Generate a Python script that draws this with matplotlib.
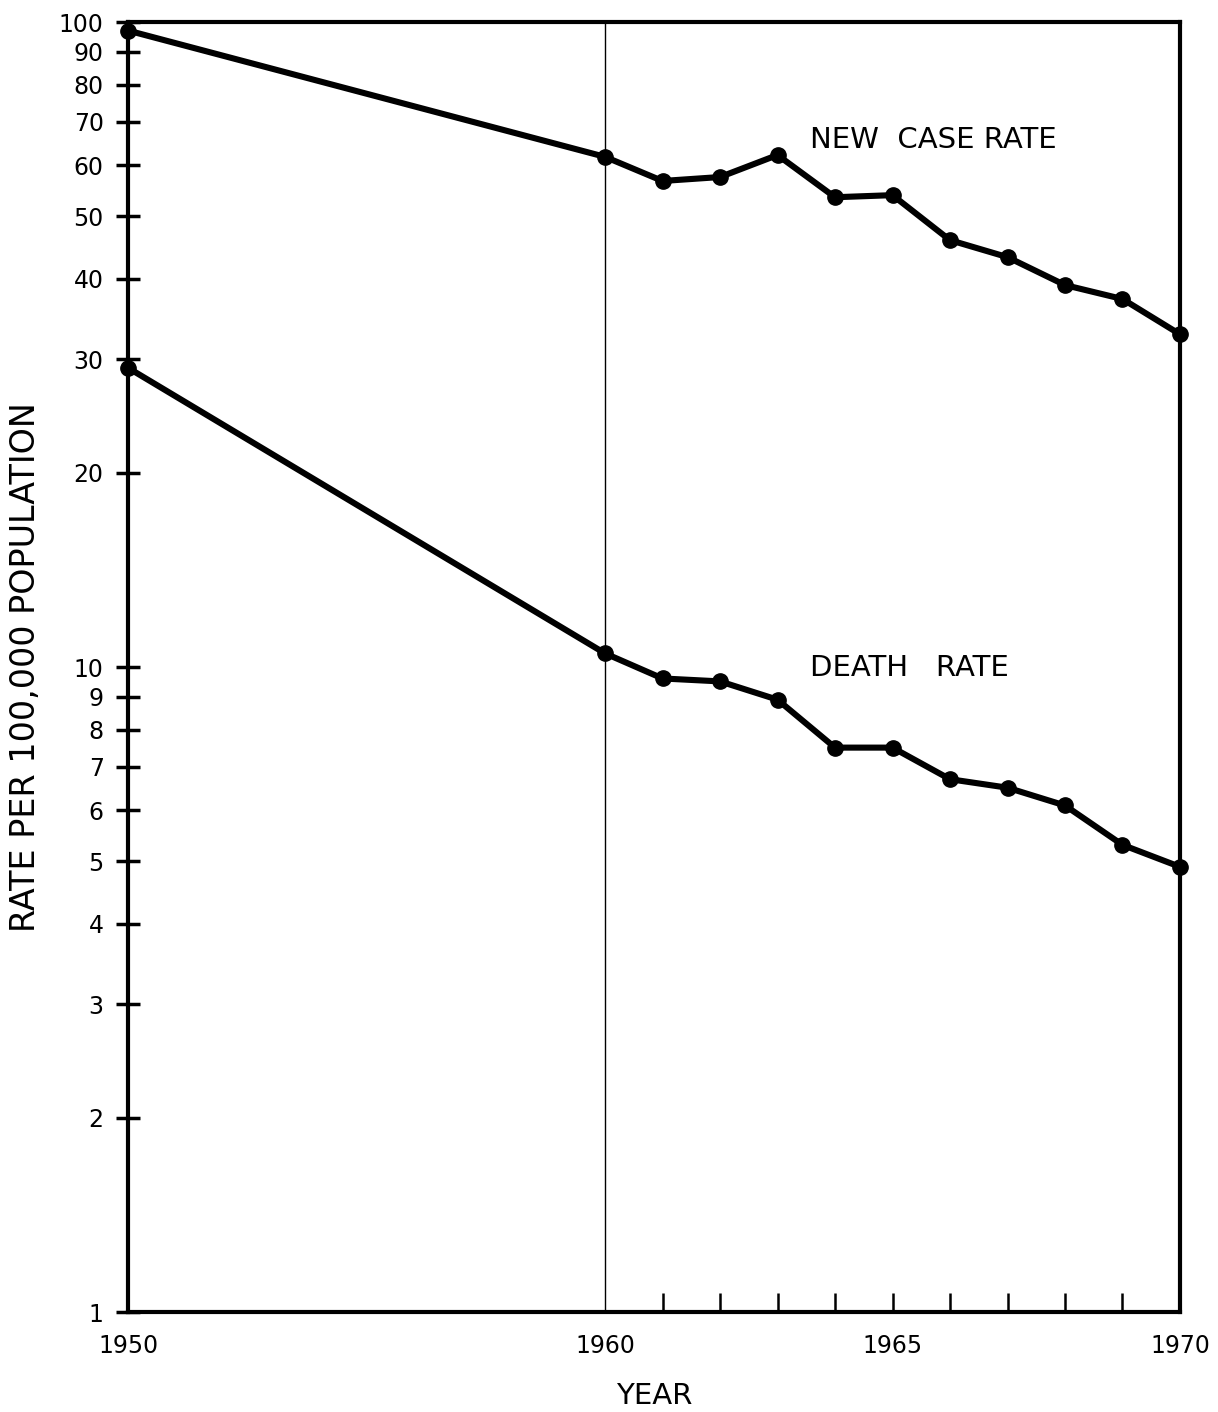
import numpy as np
import matplotlib
matplotlib.use("Agg")
import matplotlib.pyplot as plt

# data
years = [1950, 1960, 1961, 1962, 1963, 1964, 1965, 1966, 1967, 1968, 1969, 1970]
new_case_rate = [97.0, 61.8, 56.7, 57.5, 62.2, 53.5, 53.9, 45.9, 43.2, 39.1, 37.2, 32.8]
death_rate = [29.1, 10.5, 9.6, 9.5, 8.9, 7.5, 7.5, 6.7, 6.5, 6.1, 5.3, 4.9]

y_ticks = [1, 2, 3, 4, 5, 6, 7, 8, 9, 10, 20, 30, 40, 50, 60, 70, 80, 90, 100]
x_labels = [1950, 1960, 1965, 1970]
x_minor = [1961, 1962, 1963, 1964, 1965, 1966, 1967, 1968, 1969]

# 1950-1960 is drawn compressed compared to 1960-1970
PRE, POST = 47.7, 57.5


def fwd(x):
    x = np.asarray(x, dtype=float)
    return np.where(x <= 1960, (x - 1950) * PRE, 10 * PRE + (x - 1960) * POST)


def inv(p):
    p = np.asarray(p, dtype=float)
    return np.where(p <= 10 * PRE, 1950 + p / PRE, 1960 + (p - 10 * PRE) / POST)


plt.rcParams['font.family'] = ['DejaVu Sans']
fig = plt.figure(figsize=(12.18, 14.12), dpi=100)
ax = fig.add_axes([0.1051, 0.0708, 0.8637, 0.9136])

ax.set_xscale('function', functions=(fwd, inv))
ax.set_yscale('log')
ax.set_xlim(1950, 1970)
ax.set_ylim(1, 100)

ax.axvline(1960, color='black', lw=1.0)

ax.plot(years, new_case_rate, color='black', lw=4.4, marker='o', ms=11, clip_on=False)
ax.plot(years, death_rate, color='black', lw=4.4, marker='o', ms=11, clip_on=False)

ax.text(1963.57, 65.6, 'NEW  CASE RATE', fontsize=21, va='center', ha='left')
ax.text(1963.57, 9.95, 'DEATH   RATE', fontsize=21, va='center', ha='left')

for s in ax.spines.values():
    s.set_linewidth(3)

ax.set_yticks(y_ticks)
ax.set_yticklabels([str(v) for v in y_ticks])
ax.yaxis.set_minor_locator(matplotlib.ticker.NullLocator())
ax.tick_params(axis='y', which='major', direction='inout', length=17, width=2.5,
               labelsize=17, pad=9)

ax.xaxis.remove_overlapping_locs = False
ax.set_xticks(x_labels)
ax.set_xticklabels([str(v) for v in x_labels])
ax.set_xticks(x_minor, minor=True)
ax.tick_params(axis='x', which='major', length=0, labelsize=17, pad=16)
ax.tick_params(axis='x', which='minor', direction='in', length=14, width=1.8)

ax.set_ylabel('RATE PER 100,000 POPULATION', fontsize=24, labelpad=12)
ax.set_xlabel('YEAR', fontsize=21, labelpad=17)

fig.savefig('out.png', dpi=100)
